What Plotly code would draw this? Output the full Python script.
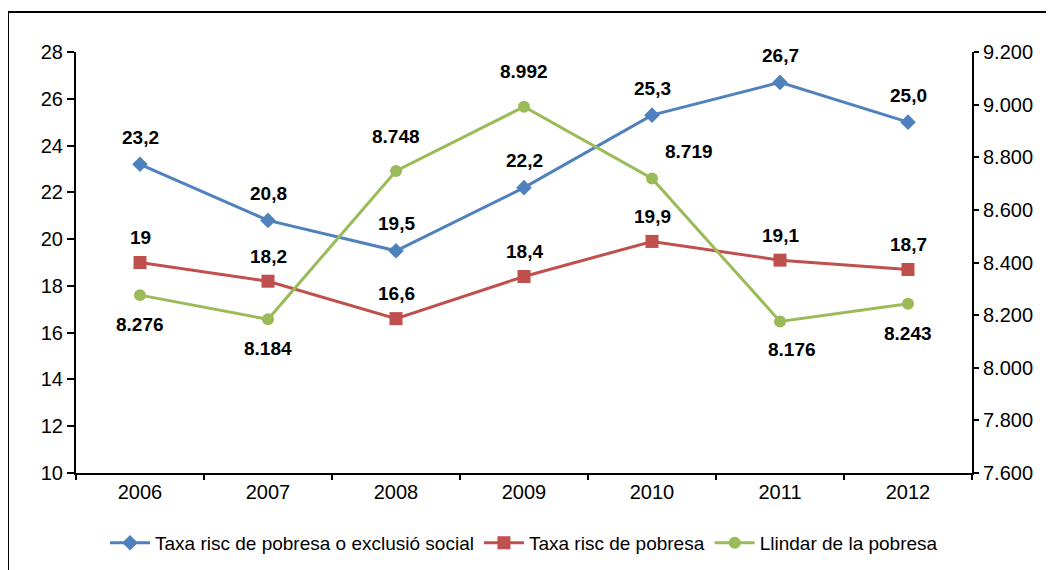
import plotly.graph_objects as go

years = ["2006", "2007", "2008", "2009", "2010", "2011", "2012"]
taxa_exclusio = [23.2, 20.8, 19.5, 22.2, 25.3, 26.7, 25.0]
taxa_risc = [19.0, 18.2, 16.6, 18.4, 19.9, 19.1, 18.7]
llindar = [8276, 8184, 8748, 8992, 8719, 8176, 8243]

labels_exclusio = ["23,2", "20,8", "19,5", "22,2", "25,3", "26,7", "25,0"]
labels_risc = ["19", "18,2", "16,6", "18,4", "19,9", "19,1", "18,7"]
labels_llindar = ["8.276", "8.184", "8.748", "8.992", "8.719", "8.176", "8.243"]

names = ["Taxa risc de pobresa o exclusió social", "Taxa risc de pobresa", "Llindar de la pobresa"]

# label offsets (pixels)
off_exclusio = [(0, 27)] * 7
off_risc = [(0, 25)] * 7
off_llindar = [(0, -29), (0, -29), (0, 34), (0, 35), (37, 27), (12, -28), (0, -30)]

BLUE = "#4F81BD"
RED = "#C0504D"
GREEN = "#9BBB59"

fig = go.Figure()
fig.add_trace(go.Scatter(x=years, y=taxa_exclusio, name=names[0], mode="lines+markers",
                         line=dict(color=BLUE, width=3),
                         marker=dict(symbol="diamond", size=12, color=BLUE)))
fig.add_trace(go.Scatter(x=years, y=taxa_risc, name=names[1], mode="lines+markers",
                         line=dict(color=RED, width=3),
                         marker=dict(symbol="square", size=13, color=RED)))
fig.add_trace(go.Scatter(x=years, y=llindar, name=names[2], mode="lines+markers", yaxis="y2",
                         line=dict(color=GREEN, width=3),
                         marker=dict(symbol="circle", size=12, color=GREEN)))

annots = []
lab_font = dict(family="Liberation Sans, Arial", size=19, color="black")
for vals, labs, offs, yref in [(taxa_exclusio, labels_exclusio, off_exclusio, "y"),
                               (taxa_risc, labels_risc, off_risc, "y"),
                               (llindar, labels_llindar, off_llindar, "y2")]:
    for i, (v, t, (dx, dy)) in enumerate(zip(vals, labs, offs)):
        annots.append(dict(x=i, y=v, xref="x", yref=yref, text="<b>%s</b>" % t,
                           showarrow=False, xshift=dx, yshift=dy, font=lab_font))

axis_font = dict(family="Liberation Sans, Arial", size=20, color="black")

fig.update_layout(
    width=1054, height=570,
    margin=dict(l=68, r=90, t=44, b=105),
    paper_bgcolor="white", plot_bgcolor="white",
    separators=",.",
    showlegend=True,
    legend=dict(orientation="h", x=0.5, xanchor="center", y=-0.166, yanchor="middle",
                font=dict(family="Liberation Sans, Arial", size=19, color="black"),
                itemwidth=40, tracegroupgap=0),
    xaxis=dict(type="category", range=[-0.5, 6.5], showline=True, linecolor="black", linewidth=2,
               ticks="outside", tickson="boundaries", ticklen=5, tickcolor="black", tickwidth=2,
               showgrid=False, tickfont=axis_font, zeroline=False, automargin=False),
    yaxis=dict(range=[10, 28], dtick=2, showline=True, linecolor="black", linewidth=2,
               ticks="outside", ticklen=7, tickcolor="black", tickwidth=2,
               showgrid=False, tickfont=axis_font, zeroline=False, automargin=False),
    yaxis2=dict(range=[7600, 9200], dtick=200, overlaying="y", side="right",
                showline=True, linecolor="black", linewidth=2,
                ticks="outside", ticklen=5, tickcolor="black", tickwidth=2,
                tickformat=",d", showgrid=False, tickfont=axis_font, zeroline=False,
                automargin=False),
    annotations=annots,
    shapes=[dict(type="rect", xref="paper", yref="paper", x0=-0.0759, x1=1.3, y0=-0.4, y1=1.095,
                 line=dict(color="black", width=2), fillcolor="rgba(0,0,0,0)", layer="below")],
)

fig.write_html("out.html")
